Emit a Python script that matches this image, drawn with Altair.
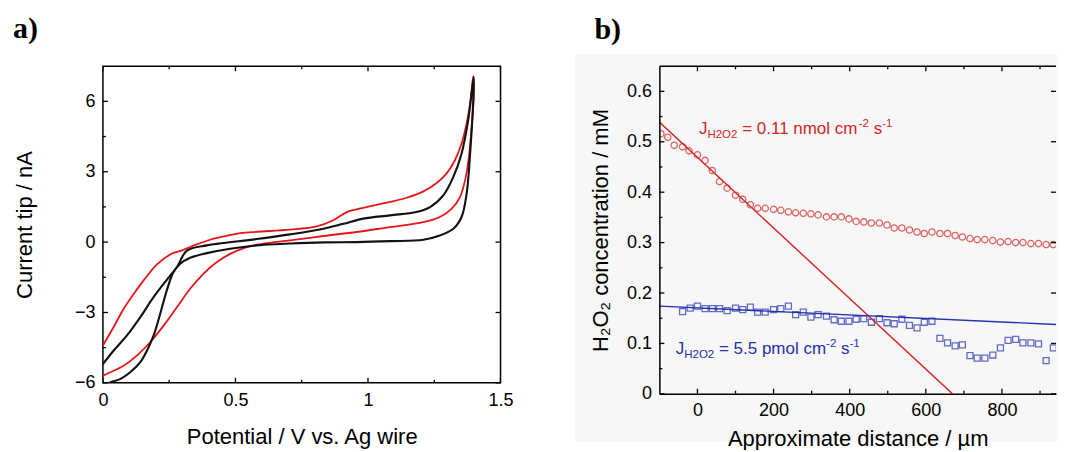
import altair as alt
import pandas as pd

# ---------------- Panel a: cyclic voltammograms ----------------
red_fwd_v = [0.0, 0.040, 0.078, 0.116, 0.153, 0.204, 0.254, 0.304, 0.354, 0.405, 0.455, 0.518, 0.580,
             0.706, 0.807, 0.869, 0.920, 0.957, 1.020, 1.083, 1.146, 1.209, 1.259, 1.296, 1.328, 1.353,
             1.372, 1.387, 1.397]
red_fwd_i = [-4.41, -3.63, -2.85, -2.21, -1.64, -0.95, -0.53, -0.33, -0.10, 0.10, 0.24, 0.38, 0.44,
             0.53, 0.67, 0.93, 1.28, 1.40, 1.55, 1.71, 1.89, 2.16, 2.52, 2.92, 3.49, 4.20,
             5.05, 6.05, 7.07]
red_rev_v = [1.399, 1.391, 1.382, 1.369, 1.347, 1.315, 1.271, 1.209, 1.083, 0.957, 0.832, 0.706, 0.606,
             0.543, 0.480, 0.430, 0.379, 0.329, 0.279, 0.229, 0.178, 0.128, 0.078, 0.028, 0.0]
red_rev_i = [6.19, 4.91, 3.77, 2.78, 1.92, 1.42, 1.07, 0.85, 0.64, 0.43, 0.26, 0.07, -0.07,
             -0.21, -0.50, -0.85, -1.35, -1.99, -2.78, -3.56, -4.27, -4.84, -5.27, -5.55, -5.69]

black_fwd_v = [0.0, 0.040, 0.090, 0.141, 0.191, 0.241, 0.279, 0.317, 0.392, 0.455, 0.580, 0.706, 0.832,
               0.907, 0.982, 1.083, 1.183, 1.234, 1.284, 1.322, 1.353, 1.378, 1.399]
black_fwd_i = [-5.20, -4.63, -3.99, -3.20, -2.35, -1.61, -1.07, -0.36, -0.14, -0.04, 0.13, 0.33, 0.57,
               0.78, 1.00, 1.14, 1.28, 1.49, 1.99, 2.78, 3.77, 5.20, 7.05]
black_rev_v = [1.397, 1.387, 1.372, 1.353, 1.322, 1.271, 1.209, 1.083, 0.957, 0.832, 0.706, 0.580, 0.480,
               0.392, 0.329, 0.291, 0.266, 0.241, 0.216, 0.191, 0.166, 0.141, 0.103, 0.065, 0.028, 0.0]
black_rev_i = [6.05, 4.06, 2.06, 1.07, 0.57, 0.28, 0.10, 0.04, 0.0, -0.01, -0.06, -0.14, -0.28,
               -0.47, -0.67, -0.93, -1.28, -2.06, -3.06, -3.99, -4.63, -5.12, -5.55, -5.84, -5.98, -6.1]

a_x_major = [0, 0.5, 1, 1.5]
a_x_minor = [0.25, 0.75, 1.25]
a_y_major = [-6, -3, 0, 3, 6]
a_y_minor = [-4.5, -1.5, 1.5, 4.5]

# ---------------- Panel b: H2O2 profiles ----------------
dist_red = [-96, -78, -61, -39, -22, 0, 20, 39, 58, 78, 100, 119, 139, 158, 178, 200, 219, 239, 258, 278,
            298, 317, 339, 359, 378, 398, 417, 437, 457, 478, 498, 517, 537, 557, 577, 596, 616, 637,
            657, 677, 696, 716, 735, 755, 776, 796, 816, 836, 855, 876, 896, 916, 935, 954]
conc_red = [0.516, 0.509, 0.493, 0.490, 0.482, 0.474, 0.463, 0.443, 0.421, 0.408, 0.394, 0.386, 0.375,
            0.368, 0.368, 0.366, 0.364, 0.361, 0.359, 0.358, 0.357, 0.355, 0.351, 0.351, 0.351, 0.347,
            0.342, 0.341, 0.339, 0.339, 0.335, 0.329, 0.329, 0.325, 0.321, 0.318, 0.321, 0.318, 0.318,
            0.314, 0.311, 0.308, 0.306, 0.306, 0.304, 0.301, 0.302, 0.300, 0.300, 0.298, 0.298, 0.296,
            0.296, 0.296]
dist_blue = [-39, -19, 0, 20, 39, 58, 78, 100, 119, 139, 158, 178, 200, 219, 239, 258, 278, 298, 317, 339,
             359, 378, 398, 417, 437, 457, 478, 498, 517, 537, 557, 577, 596, 616, 637, 657, 677, 696,
             716, 735, 755, 776, 796, 816, 836, 855, 876, 896, 916, 935, 954]
conc_blue = [0.163, 0.170, 0.174, 0.169, 0.169, 0.169, 0.165, 0.170, 0.167, 0.172, 0.162, 0.162, 0.167,
             0.169, 0.174, 0.157, 0.162, 0.152, 0.157, 0.154, 0.147, 0.144, 0.144, 0.148, 0.149, 0.142,
             0.149, 0.141, 0.139, 0.148, 0.136, 0.131, 0.142, 0.144, 0.110, 0.101, 0.095, 0.097, 0.076,
             0.071, 0.071, 0.077, 0.091, 0.106, 0.108, 0.101, 0.101, 0.099, 0.066, 0.091, 0.095]
fit_red_x = [-100, 670]
fit_red_y = [0.539, 0.0]
fit_blue_x = [-100, 959]
fit_blue_y = [0.174, 0.137]

b_x_major = [0, 200, 400, 600, 800]
b_x_minor = [100, 300, 500, 700, 900]
b_y_major = [0, 0.1, 0.2, 0.3, 0.4, 0.5, 0.6]
b_y_minor = [0.05, 0.15, 0.25, 0.35, 0.45, 0.55]

red_label_pos = (4, 0.515)
blue_label_pos = (-57, 0.079)
red_label = [("J", "main"), ("H2O2", "sub"), ("= 0.11 nmol cm", "main"), ("-2", "sup"), ("s", "main"), ("-1", "sup")]
blue_label = [("J", "main"), ("H2O2", "sub"), ("= 5.5 pmol cm", "main"), ("-2", "sup"), ("s", "main"), ("-1", "sup")]

# ---------------- styling ----------------
FONT = "Liberation Sans"
RED_A = "#e8141b"
BLACK = "#111111"
RED_B = "#d42424"
BLUE_B = "#2430b0"
WA, HA = 398, 317
WB, HB = 397, 328
PX_PER_UM = 76.2 / 200.0
MAJ, MIN = 5, 3

axis_common = dict(ticks=False, grid=False, labelFont=FONT, labelFontSize=18, zindex=2,
                   labelColor="black", titleFont=FONT, titleFontSize=22, titleFontWeight="normal",
                   titleColor="black", labelFlush=False, labelOverlap=False)

CHAR_W = {"J": 500, "H": 722, "2": 556, "O": 778, " ": 278, "=": 584, "0": 556, ".": 278, "1": 556,
          "n": 556, "m": 833, "o": 556, "l": 222, "c": 500, "s": 500, "-": 333, "5": 556, "p": 556}
SIZES = {"main": 17, "sub": 11.5, "sup": 11.5}
DYS = {"main": 0, "sub": 4, "sup": -7}
# space inserted before each piece (SVG trims leading blanks)
GAP_BEFORE = {"= 0.11 nmol cm": 278 * 17 / 1000, "= 5.5 pmol cm": 278 * 17 / 1000, "s": 278 * 17 / 1000}


def text_width(s, size):
    return sum(CHAR_W.get(ch, 556) for ch in s) * size / 1000.0


def label_layers(pieces, pos, color, xs, ys, xf, yf):
    layers = []
    dx = 0.0
    df = pd.DataFrame({xf: [pos[0]], yf: [pos[1]]})
    for txt, kind in pieces:
        dx += GAP_BEFORE.get(txt, 0.0)
        layers.append(
            alt.Chart(df).mark_text(align="left", baseline="alphabetic", font=FONT, fontSize=SIZES[kind],
                                    color=color, dx=dx, dy=DYS[kind]).encode(
                x=alt.X(f"{xf}:Q", scale=xs),
                y=alt.Y(f"{yf}:Q", scale=ys),
                text=alt.value(txt))
        )
        dx += text_width(txt, SIZES[kind])
    return layers


def tick_layers(xf, yf, xs, ys, xvals_major, xvals_minor, yvals_major, yvals_minor, W, H, sides):
    layers = []
    for vals, L in ((xvals_major, MAJ), (xvals_minor, MIN)):
        df = pd.DataFrame({xf: vals})
        if "bottom" in sides:
            layers.append(alt.Chart(df).mark_rule(color="black", strokeWidth=1.3, clip=True).encode(
                x=alt.X(f"{xf}:Q", scale=xs), y=alt.value(H), y2=alt.value(H - L)))
        if "top" in sides:
            layers.append(alt.Chart(df).mark_rule(color="black", strokeWidth=1.3, clip=True).encode(
                x=alt.X(f"{xf}:Q", scale=xs), y=alt.value(0), y2=alt.value(L)))
    for vals, L in ((yvals_major, MAJ), (yvals_minor, MIN)):
        df = pd.DataFrame({yf: vals})
        if "left" in sides:
            layers.append(alt.Chart(df).mark_rule(color="black", strokeWidth=1.3).encode(
                y=alt.Y(f"{yf}:Q", scale=ys), x=alt.value(0), x2=alt.value(L)))
        if "right" in sides and L == MAJ:
            layers.append(alt.Chart(df).mark_rule(color="black", strokeWidth=1.3).encode(
                y=alt.Y(f"{yf}:Q", scale=ys), x=alt.value(W), x2=alt.value(W - L)))
    return layers


# ---------------- Panel a chart ----------------
xs_a = alt.Scale(domain=[0, 1.5], nice=False, zero=False)
ys_a = alt.Scale(domain=[-6, 7.5], nice=False, zero=False)


def cv_df(v1, i1, v2, i2):
    v = v1 + v2
    i = i1 + i2
    return pd.DataFrame({"V": v, "I": i, "k": list(range(len(v)))})


red_cv = alt.Chart(cv_df(red_fwd_v, red_fwd_i, red_rev_v, red_rev_i)).mark_line(
    color=RED_A, strokeWidth=1.8, clip=True, interpolate="catmull-rom").encode(
    x=alt.X("V:Q", scale=xs_a, axis=alt.Axis(title="Potential / V vs. Ag wire", values=a_x_major,
                                               labelExpr="datum.value + ''", labelPadding=9,
                                               titlePadding=17, domain=False, **axis_common)),
    y=alt.Y("I:Q", scale=ys_a, axis=alt.Axis(title="Current tip / nA", values=a_y_major,
                                              format="d", labelPadding=8,
                                              titlePadding=38, domain=False, **axis_common)),
    order="k:Q")

black_cv = alt.Chart(cv_df(black_fwd_v, black_fwd_i, black_rev_v, black_rev_i)).mark_line(
    color=BLACK, strokeWidth=2.1, clip=True, interpolate="catmull-rom").encode(
    x=alt.X("V:Q", scale=xs_a), y=alt.Y("I:Q", scale=ys_a), order="k:Q")

tag_a = alt.Chart(pd.DataFrame({"t": ["a)"]})).mark_text(
    align="left", baseline="alphabetic", font="Liberation Serif", fontWeight="bold", fontSize=30,
    color="black").encode(x=alt.value(-90), y=alt.value(-28), text="t:N")

panel_a = alt.layer(
    red_cv, black_cv,
    *tick_layers("V", "I", xs_a, ys_a, a_x_major, a_x_minor, a_y_major, a_y_minor, WA, HA,
                 ("bottom", "top", "left", "right")),
    tag_a,
).properties(width=WA, height=HA, view=alt.ViewBackground(stroke="black", strokeWidth=1.5))

# ---------------- Panel b chart ----------------
xs_b = alt.Scale(domain=[-100, -100 + WB / PX_PER_UM], nice=False, zero=False)
ys_b = alt.Scale(domain=[0, 0.65], nice=False, zero=False)

bg_b = alt.Chart(pd.DataFrame({"t": [0]})).mark_rect(color="#f7f7f7").encode(
    x=alt.value(-85), x2=alt.value(WB + 2), y=alt.value(-12), y2=alt.value(HB + 48))

top_border = alt.Chart(pd.DataFrame({"t": [0]})).mark_rule(color="black", strokeWidth=1.5).encode(
    x=alt.value(0), x2=alt.value(WB), y=alt.value(0))

red_pts = alt.Chart(pd.DataFrame({"d": dist_red, "c": conc_red})).mark_point(
    shape="circle", filled=False, size=40, strokeWidth=1.3, color=RED_B, clip=True).encode(
    x=alt.X("d:Q", scale=xs_b, axis=alt.Axis(title="Approximate distance / µm", values=b_x_major,
                                              labelExpr="datum.value + ''", labelPadding=8,
                                              titlePadding=9, domain=True,
                                              domainColor="black", domainWidth=1.5, **axis_common)),
    y=alt.Y("c:Q", scale=ys_b, axis=alt.Axis(title="H₂O₂ concentration / mM", values=b_y_major,
                                              labelExpr="datum.value + ''", labelPadding=8,
                                              titlePadding=14, domain=True,
                                              domainColor="black", domainWidth=1.5, **axis_common)))

blue_pts = alt.Chart(pd.DataFrame({"d": dist_blue, "c": conc_blue})).mark_point(
    shape="square", filled=False, size=36, strokeWidth=1.3, color=BLUE_B, clip=True).encode(
    x=alt.X("d:Q", scale=xs_b), y=alt.Y("c:Q", scale=ys_b))

red_fit = alt.Chart(pd.DataFrame({"d": fit_red_x, "c": fit_red_y})).mark_line(
    color=RED_B, strokeWidth=1.4, clip=True).encode(x=alt.X("d:Q", scale=xs_b), y=alt.Y("c:Q", scale=ys_b))
blue_fit = alt.Chart(pd.DataFrame({"d": fit_blue_x, "c": fit_blue_y})).mark_line(
    color=BLUE_B, strokeWidth=1.4, clip=True).encode(x=alt.X("d:Q", scale=xs_b), y=alt.Y("c:Q", scale=ys_b))

tag_b = alt.Chart(pd.DataFrame({"t": ["b)"]})).mark_text(
    align="left", baseline="alphabetic", font="Liberation Serif", fontWeight="bold", fontSize=30,
    color="black").encode(x=alt.value(-65), y=alt.value(-27), text="t:N")

panel_b = alt.layer(
    bg_b, red_pts, blue_pts, red_fit, blue_fit, top_border,
    *tick_layers("d", "c", xs_b, ys_b, b_x_major, b_x_minor, b_y_major, b_y_minor, WB, HB,
                 ("bottom", "top", "left", "right")),
    *label_layers(red_label, red_label_pos, RED_B, xs_b, ys_b, "d", "c"),
    *label_layers(blue_label, blue_label_pos, BLUE_B, xs_b, ys_b, "d", "c"),
    tag_b,
).properties(width=WB, height=HB, view=alt.ViewBackground(stroke=None))

chart = alt.hconcat(panel_a, panel_b, spacing=159, bounds="flush").properties(
    padding={"left": 4, "top": 5, "right": 0, "bottom": 0},
    background="white",
).configure_view(stroke=None)

chart.save("out.html", embed_options={"renderer": "svg", "actions": False})
